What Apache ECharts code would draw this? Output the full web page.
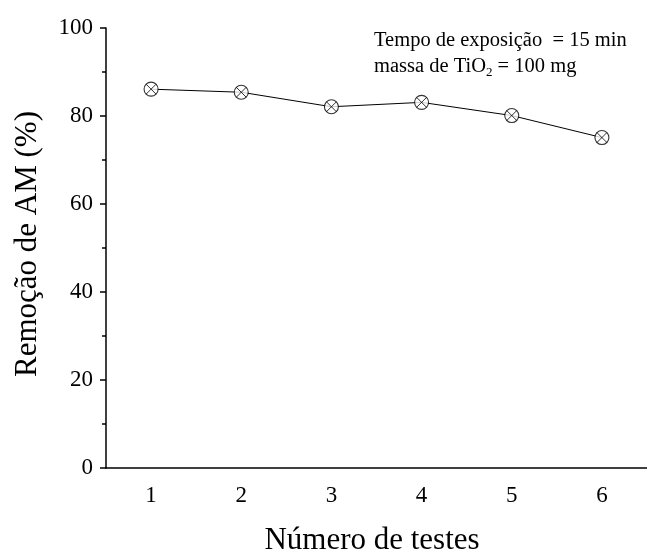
<!DOCTYPE html>
<html>
<head>
<meta charset="utf-8">
<script src="https://cdn.jsdelivr.net/npm/echarts@6/dist/echarts.min.js"></script>
<style>
html, body { margin: 0; padding: 0; background: #fff; }
#chart { width: 647px; height: 554px; }
</style>
</head>
<body>
<div id="chart"></div>
<script>
// dados
var testes = ['1', '2', '3', '4', '5', '6'];
var remocao = [86.1, 85.4, 82.1, 83.1, 80.1, 75.1];
var yTicks = [0, 20, 40, 60, 80, 100];

var fonte = 'Liberation Serif, Times New Roman, serif';

var chart = echarts.init(document.getElementById('chart'));
chart.setOption({
    animation: false,
    backgroundColor: '#fff',
    grid: { left: 106, right: -5, top: 28, bottom: 86 },
    xAxis: [{
        type: 'category',
        data: testes,
        boundaryGap: true,
        axisLine: { lineStyle: { color: '#000', width: 1.5 } },
        axisTick: { alignWithLabel: true, length: 6, lineStyle: { color: '#000', width: 1.5 } },
        axisLabel: { color: '#000', fontFamily: fonte, fontSize: 23, margin: 16 },
        splitLine: { show: false }
    }, {
        // ticks menores entre as categorias
        type: 'category',
        data: testes,
        boundaryGap: true,
        position: 'bottom',
        axisLine: { show: false },
        axisTick: { length: 4, lineStyle: { color: '#000', width: 1.5 } },
        axisLabel: { show: false },
        splitLine: { show: false }
    }],
    yAxis: {
        type: 'value',
        min: yTicks[0],
        max: yTicks[yTicks.length - 1],
        interval: 20,
        axisLine: { show: true, lineStyle: { color: '#000', width: 1.5 } },
        axisTick: { show: true, length: 6, lineStyle: { color: '#000', width: 1.5 } },
        minorTick: { show: true, splitNumber: 2, length: 4, lineStyle: { color: '#000', width: 1.5 } },
        axisLabel: { color: '#000', fontFamily: fonte, fontSize: 23, margin: 13 },
        splitLine: { show: false }
    },
    series: [{
        type: 'line',
        data: remocao,
        symbol: 'none',
        lineStyle: { color: '#000', width: 1 },
        z: 2
    }, {
        // círculo do marcador
        type: 'scatter',
        data: remocao,
        symbol: 'circle',
        symbolSize: 14,
        itemStyle: { color: '#fff', borderColor: '#000', borderWidth: 1.1 },
        z: 3
    }, {
        // x dentro do círculo
        type: 'scatter',
        data: remocao,
        symbol: 'path://M0,0L1,1M1,0L0,1',
        symbolSize: 10,
        itemStyle: { color: 'transparent', borderColor: '#000', borderWidth: 1 },
        z: 4
    }],
    graphic: [{
        type: 'text',
        left: 374,
        top: 30,
        style: { text: 'Tempo de exposição  = 15 min', font: '20.5px ' + fonte, fill: '#000' }
    }, {
        type: 'text',
        left: 374,
        top: 56,
        style: {
            text: '{n|massa de TiO}{s|2}{n| = 100 mg}',
            rich: {
                n: { font: '20.5px ' + fonte, fill: '#000' },
                s: { font: '13px ' + fonte, fill: '#000', padding: [12, 0, 0, 0] }
            }
        }
    }, {
        type: 'text',
        x: 372,
        y: 541,
        style: { text: 'Número de testes', font: '31px ' + fonte, fill: '#000', align: 'center', verticalAlign: 'middle' }
    }, {
        type: 'text',
        x: 28,
        y: 244,
        rotation: Math.PI / 2,
        style: { text: 'Remoção de AM (%)', font: '31px ' + fonte, fill: '#000', align: 'center', verticalAlign: 'middle' }
    }]
});
</script>
</body>
</html>
